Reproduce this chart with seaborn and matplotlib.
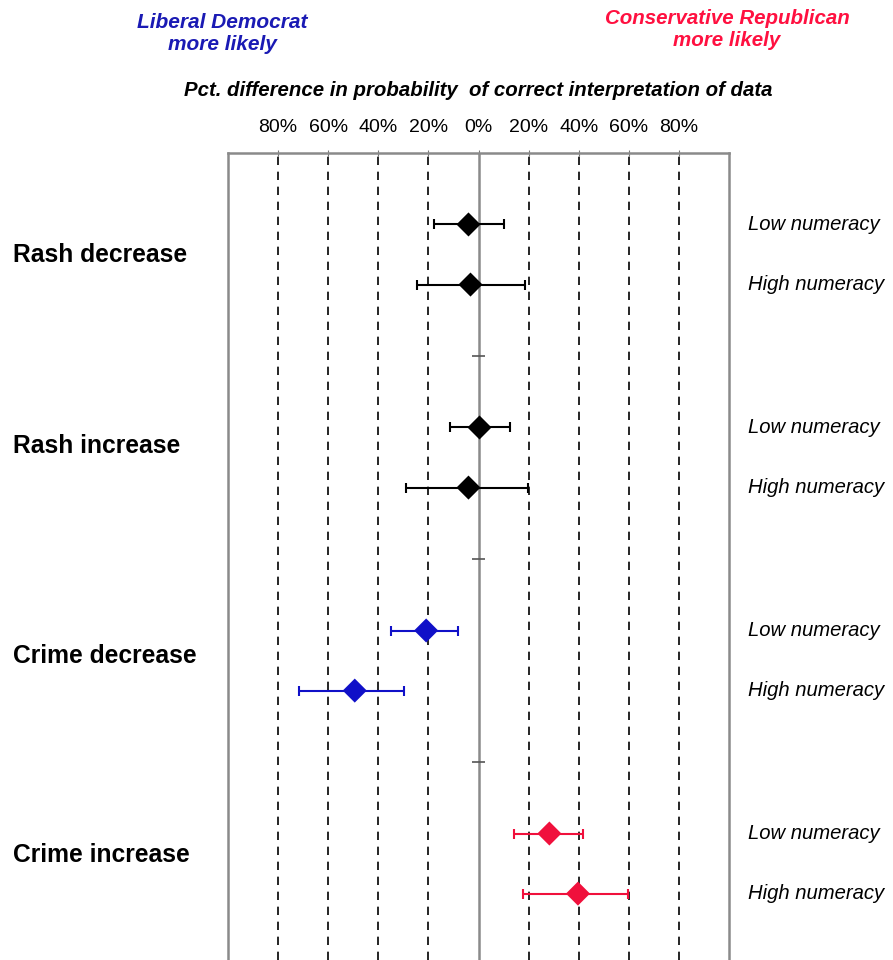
import seaborn as sns
import pandas as pd
import matplotlib.pyplot as plt
import matplotlib.transforms as mtransforms
plt.switch_backend('Agg')

# data (percent difference, negative = Liberal Democrat side)
groups = ["Rash decrease", "Rash increase", "Crime decrease", "Crime increase"]
levels = ["Low numeracy", "High numeracy"]
estimate = [-4.0, -3.2, 0.4, -4.0, -20.9, -49.4, 28.3, 39.7]
lower = [-17.6, -24.4, -11.2, -29.1, -35.1, -71.7, 14.1, 17.7]
upper = [10.0, 18.4, 12.4, 19.6, -8.3, -29.8, 41.8, 59.8]
lean = ["none", "none", "none", "none", "liberal", "liberal", "conservative", "conservative"]
tick_values = [-80, -60, -40, -20, 0, 20, 40, 60, 80]

palette = {"none": "black", "liberal": "#1010c8", "conservative": "#f0103c"}

rows = []
for i, g in enumerate(groups):
    for j, lv in enumerate(levels):
        k = i * 2 + j
        rows.append({"group": g, "level": lv, "gi": i, "li": j,
                     "est": estimate[k], "lo": lower[k], "hi": upper[k], "lean": lean[k]})
df = pd.DataFrame(rows)
df["y"] = df["gi"] + (df["li"] - 0.5) * 0.296

sns.set_style("white")
plt.rcParams['font.family'] = ['Liberation Sans', 'DejaVu Sans']
plt.rcParams['text.color'] = 'black'
plt.rcParams['xtick.color'] = 'black'

fig = plt.figure(figsize=(8.93, 9.6), dpi=100)
ax = fig.add_axes([228 / 893, 0, (729 - 228) / 893, 1 - 153 / 960])

# dashed grid and solid centre line
for v in tick_values:
    if v == 0:
        ax.axvline(0, color="#8a8a8a", lw=1.8, zorder=1)
    else:
        ax.axvline(v, color="black", lw=1.2, ls=(0, (5, 4)), zorder=1)
ax.hlines([0.5, 1.5, 2.5], -2.5, 2.5, color="#555555", lw=1.2, zorder=1)

# error bars
for _, r in df.iterrows():
    c = palette[r["lean"]]
    ax.errorbar(r["est"], r["y"], xerr=[[r["est"] - r["lo"]], [r["hi"] - r["est"]]],
                fmt="none", ecolor=c, elinewidth=1.5, capsize=3.7, capthick=1.5, zorder=2)

sns.scatterplot(data=df, x="est", y="y", hue="lean", palette=palette, marker="D",
                s=150, edgecolor="none", legend=False, ax=ax, zorder=3)

ax.set_xlim(-100, 100)
ax.set_ylim(3.475, -0.5)
ax.xaxis.tick_top()
ax.set_xticks(tick_values)
ax.set_xticklabels([f"{abs(v)}%" for v in tick_values], fontsize=14)
ax.tick_params(axis="x", length=5, direction="inout", color="#777777", pad=10)
ax.set_yticks([])
ax.set_xlabel("")
ax.set_ylabel("")
for side in ["top", "left", "right"]:
    ax.spines[side].set_color("#8a8a8a")
    ax.spines[side].set_linewidth(1.8)
ax.spines["bottom"].set_visible(False)

# group labels on the left, numeracy labels on the right
lab_tr = mtransforms.blended_transform_factory(fig.transFigure, ax.transData)
label_nudge = [0.0, -0.055, -0.02, -0.04]
for i, g in enumerate(groups):
    ax.text(13 / 893, i + label_nudge[i], g, transform=lab_tr, ha="left", va="center",
            fontsize=17.7, fontweight="bold")
for _, r in df.iterrows():
    ax.text(748 / 893, r["y"], r["level"], transform=lab_tr, ha="left", va="center",
            fontsize=14.6, fontstyle="italic")

fig.text(478 / 893, 1 - 90 / 960, "Pct. difference in probability  of correct interpretation of data",
         ha="center", va="center", fontsize=14.7, fontweight="bold", fontstyle="italic")
fig.text(222 / 893, 1 - 33 / 960, "Liberal Democrat\nmore likely", ha="center", va="center",
         fontsize=15, fontweight="bold", fontstyle="italic", color="#1a1ab4", linespacing=1.2)
fig.text(727 / 893, 1 - 29 / 960, "Conservative Republican\nmore likely", ha="center", va="center",
         fontsize=14.8, fontweight="bold", fontstyle="italic", color="#ff1040", linespacing=1.2)

plt.savefig("out.png", dpi=100)
plt.close()
